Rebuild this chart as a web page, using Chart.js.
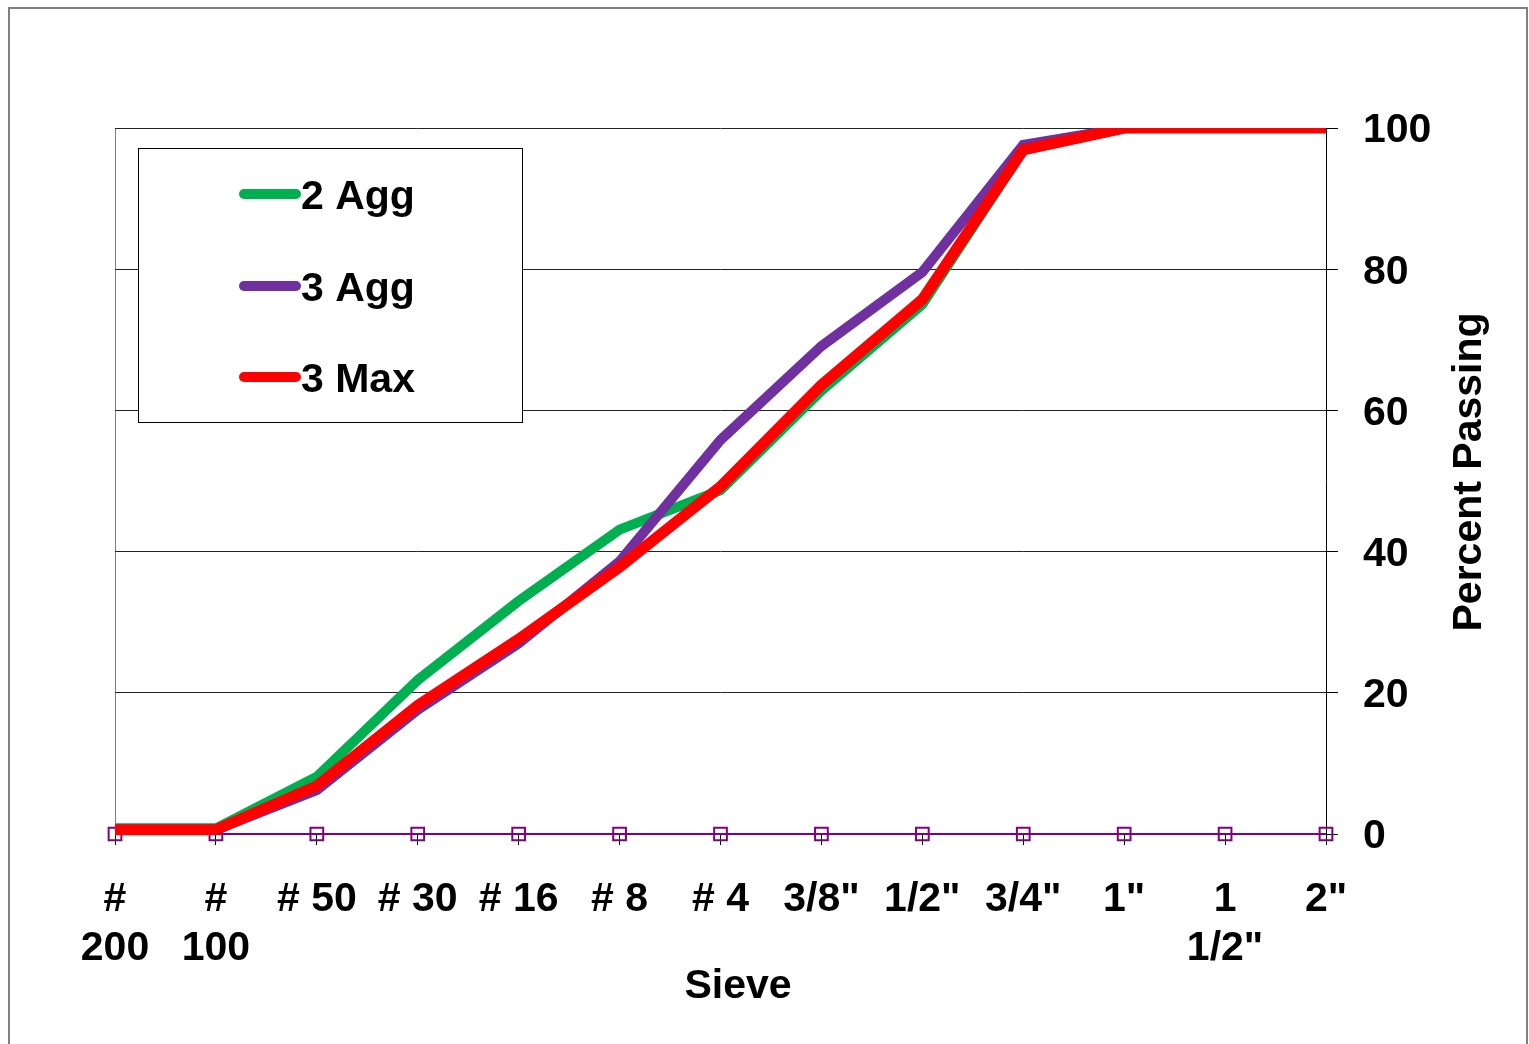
<!DOCTYPE html>
<html lang="en">
<head>
  <meta charset="UTF-8">
  <title>Sieve Gradation</title>
  <script src="https://cdn.jsdelivr.net/npm/chart.js"></script>
  <style>
    body { margin: 0; background: #fff; }
    canvas { display: block; }
  </style>
</head>
<body>
  <canvas id="gradationChart" width="1529" height="1044"></canvas>

  <script>
    // Sieve sizes (x categories)
    const sieves = [['#', '200'], ['#', '100'], '# 50', '# 30', '# 16', '# 8', '# 4',
      '3/8"', '1/2"', '3/4"', '1"', ['1', '1/2"'], '2"'];

    // Percent passing per blend
    const agg2 = [0.8, 0.8, 8.1, 21.8, 33.0, 43.1, 48.7, 62.8, 75.0, 96.9, 100, 100, 100];
    const agg3 = [0.6, 0.6, 6.2, 17.6, 27.0, 38.6, 55.8, 69.1, 79.6, 97.6, 100, 100, 100];
    const max3 = [0.6, 0.6, 6.8, 18.2, 27.6, 37.8, 49.2, 63.6, 75.7, 96.9, 100, 100, 100];
    const baseline = [0, 0, 0, 0, 0, 0, 0, 0, 0, 0, 0, 0, 0];

    const yTicks = [0, 20, 40, 60, 80, 100];

    const FONT = "'Liberation Sans', Arial, sans-serif";
    const boldFont = { family: FONT, size: 41, weight: 'bold', lineHeight: 1.2 };
    const lineClip = { left: 8, top: 0, right: 5, bottom: 12 };

    // outer frame, legend box and axis titles
    const decorations = {
      id: 'decorations',
      beforeDraw(chart) {
        const ctx = chart.ctx;
        ctx.save();
        ctx.fillStyle = '#fff';
        ctx.fillRect(0, 0, chart.width, chart.height);
        ctx.strokeStyle = '#808080';
        ctx.lineWidth = 2;
        ctx.strokeRect(9, 8, 1518, 1060);
        ctx.restore();
      },
      afterDatasetsDraw(chart) {
        const ctx = chart.ctx;
        ctx.save();
        ctx.fillStyle = '#fff';
        ctx.fillRect(138.5, 148.5, 384, 274);
        ctx.strokeStyle = '#000';
        ctx.lineWidth = 1;
        ctx.strokeRect(138.5, 148.5, 384, 274);

        const rows = [194, 286, 377];
        const legendSets = [2, 1, 0]; // 2 Agg, 3 Agg, 3 Max
        ctx.font = 'bold 41px ' + FONT;
        ctx.textBaseline = 'middle';
        ctx.textAlign = 'left';
        legendSets.forEach((di, i) => {
          const ds = chart.data.datasets[di];
          ctx.strokeStyle = ds.borderColor;
          ctx.lineWidth = 10;
          ctx.lineCap = 'round';
          ctx.beginPath();
          ctx.moveTo(244, rows[i]);
          ctx.lineTo(296, rows[i]);
          ctx.stroke();
          ctx.fillStyle = '#000';
          ctx.fillText(ds.label, 301, rows[i] + 4);
        });

        ctx.restore();
      },
      afterDraw(chart) {
        const ctx = chart.ctx;
        ctx.save();
        ctx.font = 'bold 41px ' + FONT;
        ctx.fillStyle = '#000';
        ctx.textAlign = 'center';
        ctx.textBaseline = 'middle';
        ctx.fillText('Sieve', 738, 987);

        ctx.translate(1470, 472);
        ctx.rotate(-Math.PI / 2);
        ctx.fillText('Percent Passing', 0, 0);
        ctx.restore();
      }
    };

    const ctx = document.getElementById('gradationChart').getContext('2d');
    new Chart(ctx, {
      type: 'line',
      data: {
        labels: sieves,
        datasets: [
          {
            label: '3 Max',
            data: max3,
            borderColor: '#FF0000',
            borderWidth: 11,
            pointRadius: 0,
            order: 1,
            clip: lineClip
          },
          {
            label: '3 Agg',
            data: agg3,
            borderColor: '#7030A0',
            borderWidth: 10,
            pointRadius: 0,
            order: 2,
            clip: lineClip
          },
          {
            label: '2 Agg',
            data: agg2,
            borderColor: '#00B050',
            borderWidth: 10,
            pointRadius: 0,
            order: 3,
            clip: lineClip
          },
          {
            label: 'Series 4',
            data: baseline,
            borderColor: '#800080',
            borderWidth: 2,
            pointStyle: 'rect',
            pointRadius: 9,
            pointBorderWidth: 2,
            pointBorderColor: '#800080',
            pointBackgroundColor: 'rgba(0,0,0,0)',
            order: 4,
            clip: false
          }
        ]
      },
      options: {
        responsive: false,
        devicePixelRatio: 1,
        animation: false,
        layout: { padding: { left: 115, top: 128, right: 0, bottom: 0 } },
        plugins: {
          legend: { display: false },
          tooltip: { enabled: false }
        },
        elements: { line: { tension: 0, fill: false } },
        scales: {
          x: {
            type: 'category',
            offset: false,
            grid: {
              color: c => (c.index === 0 ? '#808080' : 'rgba(0,0,0,0)'),
              tickColor: '#000',
              tickLength: 11,
              lineWidth: 1
            },
            border: { display: false },
            ticks: {
              font: boldFont,
              color: '#000',
              maxRotation: 0,
              minRotation: 0,
              autoSkip: false,
              padding: 30
            },
            afterFit: s => { s.height = 210; }
          },
          y: {
            position: 'right',
            min: 0,
            max: 100,
            afterBuildTicks: s => { s.ticks = yTicks.map(v => ({ value: v })); },
            grid: {
              color: '#222',
              tickColor: '#000',
              tickLength: 12,
              lineWidth: 1
            },
            border: { display: true, color: '#000', width: 1 },
            ticks: {
              font: boldFont,
              color: '#000',
              padding: 25,
              labelOffset: 3
            },
            afterFit: s => { s.width = 203; }
          }
        }
      },
      plugins: [decorations]
    });
  </script>
</body>
</html>
